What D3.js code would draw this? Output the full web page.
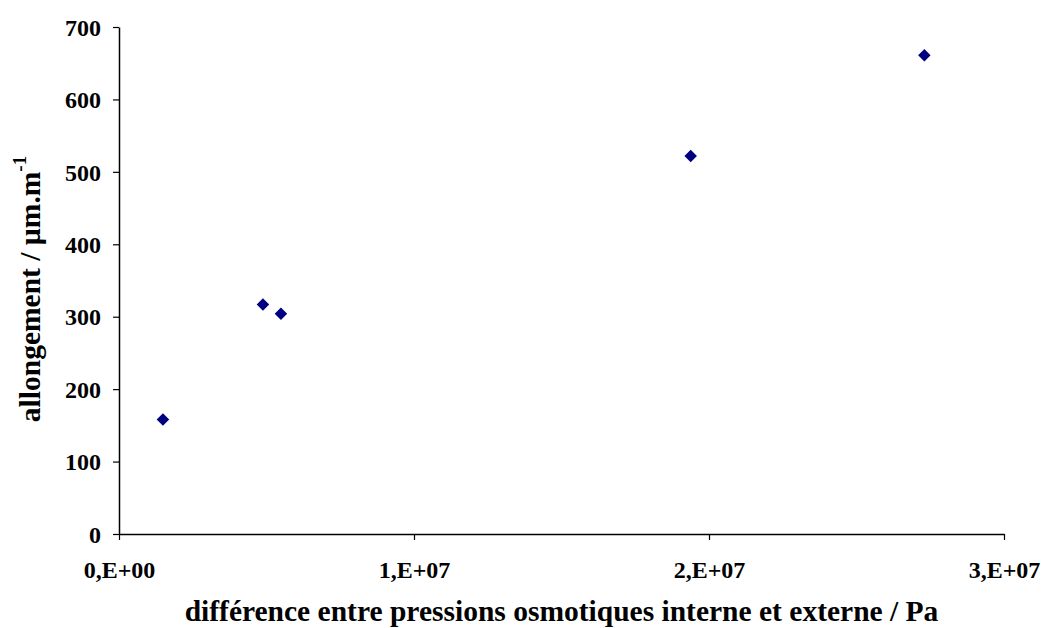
<!DOCTYPE html>
<html><head><meta charset="utf-8">
<script src="https://cdn.jsdelivr.net/npm/d3@7"></script>
<style>
html,body{margin:0;padding:0;background:#fff;}
text{font-family:"Liberation Serif","Times New Roman",serif;font-weight:bold;fill:#000;}
</style></head>
<body>
<svg id="chart" width="1041" height="628"></svg>
<script>
const pressures = [1.49e6, 4.88e6, 5.49e6, 1.938e7, 2.73e7];
const elongations = [158, 317, 304, 522, 661];
const xTicks = [0, 1e7, 2e7, 3e7];
const xTickLabels = ["0,E+00", "1,E+07", "2,E+07", "3,E+07"];
const yTicks = [0, 100, 200, 300, 400, 500, 600, 700];

(function () {
const svg = d3.select("#chart");
const mLeft = 119, mRight = 1004, mTop = 27, mBottom = 534;
const x = d3.scaleLinear().domain([0, 3e7]).range([mLeft, mRight]);
const y = d3.scaleLinear().domain([0, 700]).range([mBottom, mTop]);

const xAxis = d3.axisBottom(x).tickValues(xTicks).tickSize(6).tickSizeOuter(0)
  .tickFormat((d, i) => xTickLabels[i]);
const gx = svg.append("g").attr("transform", `translate(0,${mBottom})`).call(xAxis);
const yAxis = d3.axisLeft(y).tickValues(yTicks).tickSize(6).tickSizeOuter(0).tickPadding(12);
const gy = svg.append("g").attr("transform", `translate(${mLeft},0)`).call(yAxis);
[gx, gy].forEach(g => {
  g.select(".domain").attr("stroke", "#000").attr("stroke-width", 1.5);
  g.selectAll(".tick line").attr("stroke", "#000").attr("stroke-width", 1.2);
  g.selectAll("text").style("font-family", "'Liberation Serif', serif")
    .style("font-weight", "bold").style("font-size", "24px").attr("fill", "#000");
});
gx.selectAll("text").attr("y", 44).attr("dy", 0);
gy.selectAll("text").attr("dy", "0.34em");

svg.append("g").selectAll("path").data(pressures).join("path")
  .attr("transform", (d, i) => `translate(${x(d)},${y(elongations[i])}) rotate(45)`)
  .attr("d", d3.symbol().type(d3.symbolSquare).size(78))
  .attr("fill", "#000080");

svg.append("text")
  .attr("x", (mLeft + mRight) / 2).attr("y", 621)
  .attr("text-anchor", "middle").style("font-size", "29.5px")
  .text("différence entre pressions osmotiques interne et externe / Pa");

const yt = svg.append("text")
  .attr("transform", `translate(40,289) rotate(-90)`)
  .attr("text-anchor", "middle").style("font-size", "29.5px");
yt.append("tspan").text("allongement / µm.m");
yt.append("tspan").attr("dy", -14).style("font-size", "19px").text("-1");
})();
</script>
</body></html>
